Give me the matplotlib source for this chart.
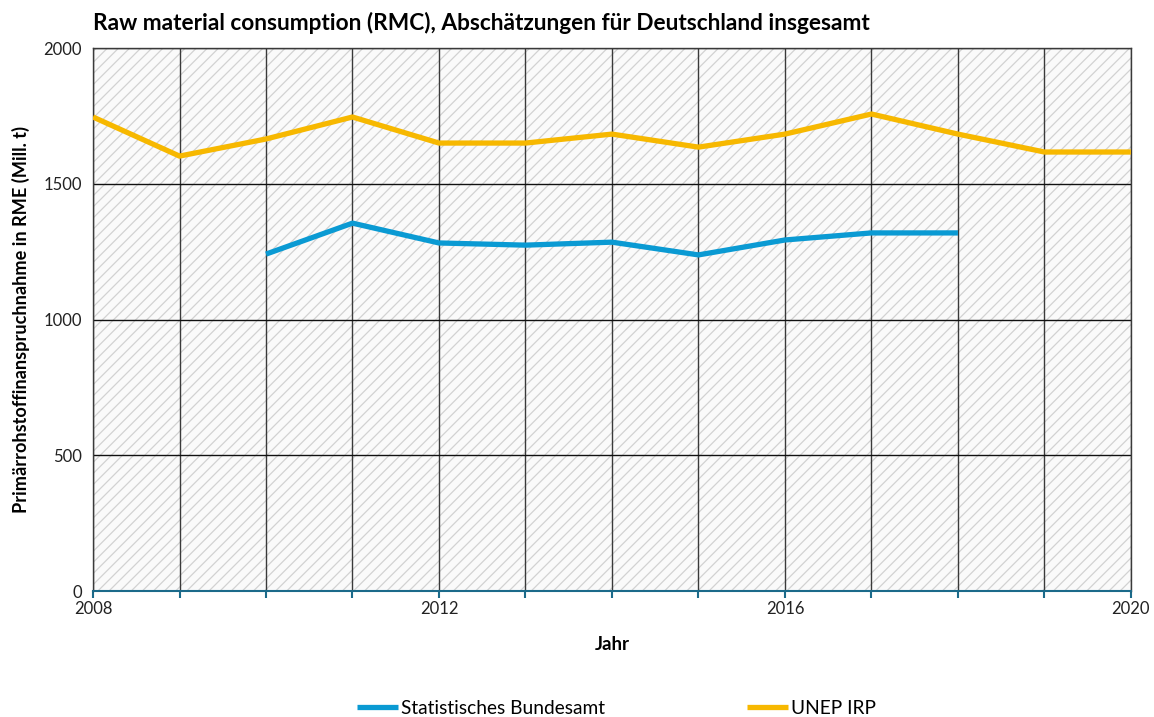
import numpy as np
import matplotlib.pyplot as plt
from matplotlib.patches import Rectangle

plt.rcParams['font.family'] = ['Lato', 'DejaVu Sans']
plt.rcParams['hatch.linewidth'] = 0.9
plt.rcParams['hatch.color'] = '#d2d2d2'

years_destatis = [2010, 2011, 2012, 2013, 2014, 2015, 2016, 2017, 2018]
rmc_destatis = [1241, 1355, 1282, 1274, 1285, 1238, 1293, 1319, 1319]

years_unep = [2008, 2009, 2010, 2011, 2012, 2013, 2014, 2015, 2016, 2017, 2018, 2019, 2020]
rmc_unep = [1746, 1602, 1665, 1746, 1650, 1650, 1683, 1635, 1683, 1757, 1683, 1617, 1617]

xtick_years = list(range(2008, 2021))
xtick_labels = [str(y) if (y - 2008) % 4 == 0 else '' for y in xtick_years]
ytick_vals = [0, 500, 1000, 1500, 2000]

fig = plt.figure(figsize=(11.54, 7.17), dpi=100)
ax = fig.add_axes([0.0806, 0.1757, 0.8994, 0.7573])

ax.set_xlim(2008, 2020)
ax.set_ylim(0, 2000)

# hatched plot background
ax.set_facecolor('#fafafa')
ax.add_patch(Rectangle((0, 0), 1, 1, transform=ax.transAxes, facecolor='none',
                       hatch='///', edgecolor='#d2d2d2', linewidth=0, zorder=0))

ax.set_xticks(xtick_years)
ax.set_xticklabels(xtick_labels)
ax.set_yticks(ytick_vals)
ax.grid(axis='x', color='#3a3a3a', linewidth=1.0, zorder=1)
ax.grid(axis='y', color='#111111', linewidth=1.0, zorder=1)

ax.plot(years_destatis, rmc_destatis, color='#0a9ad3', linewidth=3.8,
        label='Statistisches Bundesamt', zorder=3, solid_capstyle='butt')
ax.plot(years_unep, rmc_unep, color='#f7b800', linewidth=3.8,
        label='UNEP IRP', zorder=3, solid_capstyle='butt')

for s in ['left', 'right', 'top']:
    ax.spines[s].set_color('#3a3a3a')
    ax.spines[s].set_linewidth(1.0)
ax.spines['bottom'].set_color('#1b6a8a')
ax.spines['bottom'].set_linewidth(1.5)
ax.tick_params(axis='x', direction='out', length=5, width=1.5, color='#1b6a8a',
               labelsize=12, labelcolor='#222222', pad=2)
ax.tick_params(axis='y', length=0, labelsize=12, labelcolor='#222222', pad=8)

ax.set_xlabel('Jahr', fontsize=13.5, fontweight='bold', labelpad=14)
ax.set_ylabel('Primärrohstoffinanspruchnahme in RME (Mill. t)', fontsize=13.1,
              fontweight='bold', labelpad=10)
fig.text(0.0806, 0.968, 'Raw material consumption (RMC), Abschätzungen für Deutschland insgesamt',
         fontsize=16.3, fontweight='bold', ha='left', va='center')

fig.legend(loc='center', ncol=2, bbox_to_anchor=(0.534, 0.012), frameon=False,
           fontsize=13.8, handlelength=2.15, handletextpad=0.15, columnspacing=7.4)

fig.savefig('out.png', dpi=100)
